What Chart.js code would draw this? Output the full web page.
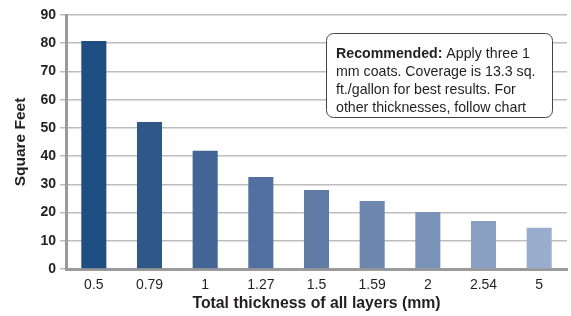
<!DOCTYPE html>
<html lang="en">
<head>
<meta charset="UTF-8">
<title>Coverage by thickness</title>
<script src="https://cdn.jsdelivr.net/npm/chart.js"></script>
<style>
  body { margin: 0; background: #fff; }
  #wrap { width: 571px; height: 316px; position: relative; }
</style>
</head>
<body>
<div id="wrap"><canvas id="coverageChart"></canvas></div>
<script>
  // data
  const thickness = ['0.5', '0.79', '1', '1.27', '1.5', '1.59', '2', '2.54', '5'];
  const squareFeet = [80.8, 52.1, 41.9, 32.6, 28.0, 24.1, 20.2, 17.0, 14.6];
  const barColors = ['#1f4f82', '#2f5889', '#426594', '#52709f', '#5f7ba6', '#6d87ae', '#7b93b8', '#8aa0c2', '#9aadcd'];
  const noteLines = [
    ['Recommended:', ' Apply three 1'],
    ['', 'mm coats. Coverage is 13.3 sq.'],
    ['', 'ft./gallon for best results. For'],
    ['', 'other thicknesses, follow chart']
  ];

  const fontFam = '"Liberation Sans", Arial, Helvetica, sans-serif';

  // callout box top right
  const noteBox = {
    id: 'noteBox',
    afterDatasetsDraw(chart) {
      const ctx = chart.ctx;
      const x = 326, y = 33, w = 226, h = 84, r = 7;
      ctx.save();
      ctx.beginPath();
      ctx.roundRect(x + 0.5, y + 0.5, w, h, r);
      ctx.fillStyle = '#fff';
      ctx.fill();
      ctx.lineWidth = 1;
      ctx.strokeStyle = '#444';
      ctx.stroke();
      ctx.fillStyle = '#231f20';
      ctx.textBaseline = 'middle';
      noteLines.forEach((ln, i) => {
        let tx = 336;
        const ty = 54 + i * 18;
        if (ln[0]) {
          ctx.font = 'bold 14.2px ' + fontFam;
          ctx.fillText(ln[0], tx, ty);
          tx += ctx.measureText(ln[0]).width;
        }
        ctx.font = '14.2px ' + fontFam;
        ctx.fillText(ln[1], tx, ty);
      });
      ctx.restore();
    }
  };

  const ctx = document.getElementById('coverageChart').getContext('2d');
  new Chart(ctx, {
    type: 'bar',
    data: {
      labels: thickness,
      datasets: [{
        data: squareFeet,
        backgroundColor: barColors,
        borderWidth: 0,
        barPercentage: 0.45,
        categoryPercentage: 1
      }]
    },
    options: {
      responsive: true,
      maintainAspectRatio: false,
      animation: false,
      layout: { padding: { top: 15, right: 4, left: 0, bottom: 0 } },
      plugins: {
        legend: { display: false },
        tooltip: { enabled: false }
      },
      scales: {
        x: {
          afterFit: s => { s.height = 47; },
          grid: { display: false, drawTicks: false },
          border: { display: true, color: '#9a9a9a', width: 3 },
          ticks: {
            color: '#231f20',
            padding: 8,
            font: { family: fontFam, size: 14 }
          },
          title: {
            display: true,
            text: 'Total thickness of all layers (mm)',
            color: '#231f20',
            padding: { top: 0, bottom: 3 },
            font: { family: fontFam, size: 15.8, weight: 'bold' }
          }
        },
        y: {
          min: 0,
          max: 90,
          afterFit: s => { s.width = 66; },
          grid: { color: '#bdbdbd', lineWidth: 1.5, tickLength: 6 },
          border: { display: true, color: '#9a9a9a', width: 3 },
          ticks: {
            stepSize: 10,
            color: '#231f20',
            padding: 4,
            font: { family: fontFam, size: 14, weight: 'bold' }
          },
          title: {
            display: true,
            text: 'Square Feet',
            color: '#231f20',
            padding: { top: 11, bottom: 0 },
            font: { family: fontFam, size: 15.5, weight: 'bold' }
          }
        }
      }
    },
    plugins: [noteBox]
  });
</script>
</body>
</html>
